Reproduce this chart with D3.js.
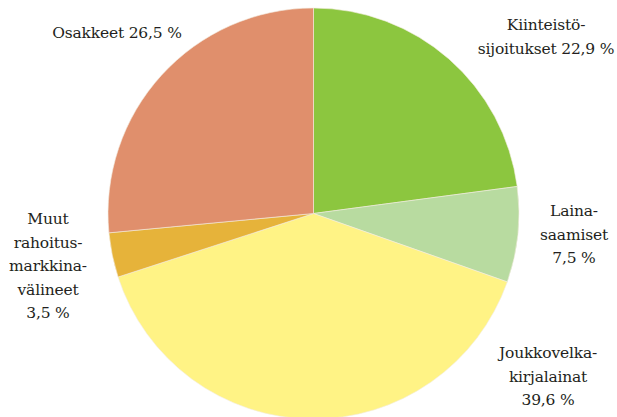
<!DOCTYPE html>
<html>
<head>
<meta charset="utf-8">
<script src="https://cdn.jsdelivr.net/npm/d3@7"></script>
<style>
  body { margin: 0; background: #fff; }
  text.lbl { font-family: "DejaVu Serif", "Liberation Serif", serif; }
</style>
</head>
<body>
<script>
//Width and height
var w = 617;
var h = 417;

// data
var categories = ["Kiinteistösijoitukset", "Lainasaamiset", "Joukkovelkakirjalainat", "Muut rahoitusmarkkinavälineet", "Osakkeet"];
var values = [22.9, 7.5, 39.6, 3.5, 26.5];
var colors = ["#8cc63f", "#b8dba0", "#fff385", "#e6b33a", "#e08f6c"];
var labelLines = [
  ["Kiinteistö-", "sijoitukset 22,9 %"],
  ["Laina-", "saamiset", "7,5 %"],
  ["Joukkovelka-", "kirjalainat", "39,6 %"],
  ["Muut", "rahoitus-", "markkina-", "välineet", "3,5 %"],
  ["Osakkeet 26,5 %"]
];

var cx = 313.5, cy = 213.5, r = 205.5;

var svg = d3.select("body")
  .append("svg")
  .attr("width", w)
  .attr("height", h);

var pie = d3.pie().sort(null).value(function(d) { return d; });
var arc = d3.arc().innerRadius(0).outerRadius(r);

var arcs = pie(values);

var g = svg.append("g").attr("transform", "translate(" + cx + "," + cy + ")");

g.selectAll("path")
  .data(arcs)
  .enter()
  .append("path")
  .attr("d", arc)
  .attr("fill", function(d, i) { return colors[i]; })
  .attr("stroke", "#f4ece0")
  .attr("stroke-width", 0.6);

// label anchor points (middle of each block), placed by hand next to the slice
var labelPos = [[546, 24], [574, 210], [548, 352], [48, 218], [117, 32]];
var lineH = 23.5;

var labels = svg.selectAll("text.lbl")
  .data(labelLines)
  .enter()
  .append("text")
  .attr("class", "lbl")
  .attr("text-anchor", "middle")
  .attr("font-size", "15.5px")
  .attr("letter-spacing", "-0.2px")
  .attr("fill", "#231f20")
  .attr("x", function(d, i) { return labelPos[i][0]; })
  .attr("y", function(d, i) { return labelPos[i][1]; });

labels.selectAll("tspan")
  .data(function(d, i) { return d.map(function(t) { return { t: t, i: i }; }); })
  .enter()
  .append("tspan")
  .attr("x", function(d) { return labelPos[d.i][0]; })
  .attr("dy", function(d, j) { return j === 0 ? 6 : lineH; })
  .text(function(d) { return d.t; });
</script>
</body>
</html>
